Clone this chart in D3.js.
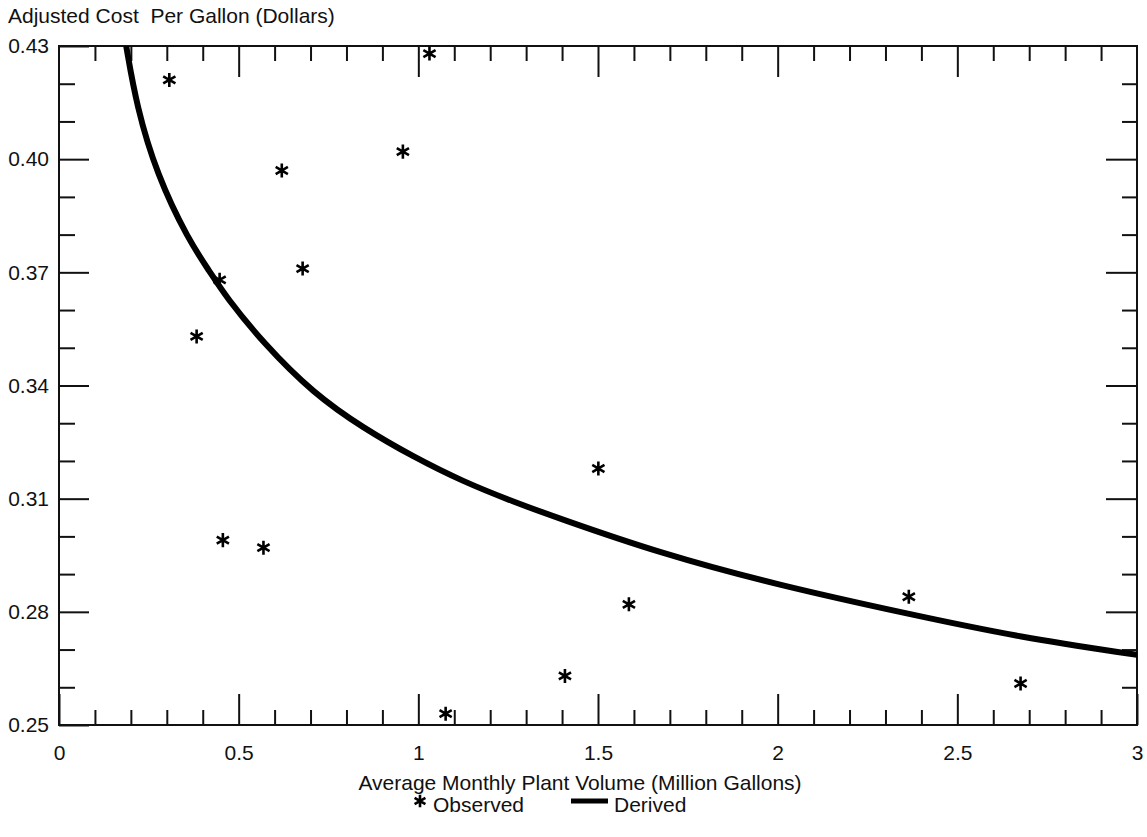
<!DOCTYPE html>
<html>
<head>
<meta charset="utf-8">
<script src="https://cdn.jsdelivr.net/npm/d3@7"></script>
<style>
  html, body { margin: 0; padding: 0; background: #fff; }
  svg { display: block; }
  text { font-family: "Liberation Sans", Arial, Helvetica, sans-serif; fill: #111; white-space: pre; }
</style>
</head>
<body>
<svg id="chart" width="1147" height="837"></svg>
<script>
// ---- Data ----
const observedX = [0.307, 1.031, 0.620, 0.957, 0.447, 0.678, 0.383, 0.456, 0.569, 1.501, 1.586, 1.408, 1.076, 2.365, 2.676];
const observedY = [0.421, 0.428, 0.397, 0.402, 0.368, 0.371, 0.353, 0.299, 0.297, 0.318, 0.282, 0.263, 0.253, 0.284, 0.261];

const derivedX = [0.187, 0.216, 0.272, 0.360, 0.421, 0.463, 0.569, 0.708, 0.847, 0.986, 1.125, 1.264, 1.385, 1.673, 2.000, 2.365, 2.676, 3.000];
const derivedY = [0.430, 0.414, 0.396, 0.3786, 0.3700, 0.3637, 0.3512, 0.3379, 0.3287, 0.3211, 0.3145, 0.3092, 0.3050, 0.2955, 0.2871, 0.2794, 0.2732, 0.2686];

const xTickValues = [0, 0.5, 1, 1.5, 2, 2.5, 3];
const xTickLabels = ["0", "0.5", "1", "1.5", "2", "2.5", "3"];
const yTickValues = [0.25, 0.28, 0.31, 0.34, 0.37, 0.40, 0.43];
const yTickLabels = ["0.25", "0.28", "0.31", "0.34", "0.37", "0.40", "0.43"];

const yTitle = "Adjusted Cost  Per Gallon (Dollars)";
const xTitle = "Average Monthly Plant Volume (Million Gallons)";
const legendLabels = ["Observed", "Derived"];

// ---- Layout ----
const L = 59, R = 1137, T = 46, B = 725;
const svg = d3.select("#chart");

const x = d3.scaleLinear().domain([0, 3]).range([L, R]);
const y = d3.scaleLinear().domain([0.25, 0.43]).range([B, T]);

const xMinor = d3.range(1, 30).map(i => i / 10).filter(v => Math.round(v * 10) % 5 !== 0);
const yMinor = d3.range(25, 44).map(i => i / 100).filter(v => !yTickValues.some(t => Math.abs(t - v) < 1e-6));

function styleAxis(g) {
  g.select(".domain").remove();
  g.selectAll(".tick line").attr("stroke", "#111").attr("stroke-width", 2);
  g.selectAll(".tick text").attr("font-size", 21).attr("fill", "#111")
    .attr("font-family", '"Liberation Sans", Arial, Helvetica, sans-serif');
}

// Bottom axis: major with labels, minor without
svg.append("g").attr("transform", `translate(0,${B})`)
  .call(d3.axisBottom(x).tickValues(xTickValues)
    .tickFormat((d, i) => xTickLabels[i]).tickSizeInner(-31).tickSizeOuter(0).tickPadding(20))
  .call(styleAxis);
svg.append("g").attr("transform", `translate(0,${B})`)
  .call(d3.axisBottom(x).tickValues(xMinor).tickFormat(() => "").tickSizeInner(-15).tickSizeOuter(0))
  .call(styleAxis);

// Top axis (ticks only)
svg.append("g").attr("transform", `translate(0,${T})`)
  .call(d3.axisTop(x).tickValues(xTickValues.slice(1, -1)).tickFormat(() => "").tickSizeInner(-31).tickSizeOuter(0))
  .call(styleAxis);
svg.append("g").attr("transform", `translate(0,${T})`)
  .call(d3.axisTop(x).tickValues(xMinor).tickFormat(() => "").tickSizeInner(-15).tickSizeOuter(0))
  .call(styleAxis);

// Left axis
svg.append("g").attr("transform", `translate(${L},0)`)
  .call(d3.axisLeft(y).tickValues(yTickValues)
    .tickFormat((d, i) => yTickLabels[i]).tickSizeInner(-30).tickSizeOuter(0).tickPadding(10))
  .call(styleAxis);
svg.append("g").attr("transform", `translate(${L},0)`)
  .call(d3.axisLeft(y).tickValues(yMinor).tickFormat(() => "").tickSizeInner(-16).tickSizeOuter(0))
  .call(styleAxis);

// Right axis
svg.append("g").attr("transform", `translate(${R},0)`)
  .call(d3.axisRight(y).tickValues(yTickValues.slice(1, -1)).tickFormat(() => "").tickSizeInner(-31).tickSizeOuter(0))
  .call(styleAxis);
svg.append("g").attr("transform", `translate(${R},0)`)
  .call(d3.axisRight(y).tickValues(yMinor).tickFormat(() => "").tickSizeInner(-15).tickSizeOuter(0))
  .call(styleAxis);

// Frame
svg.append("rect").attr("x", L).attr("y", T).attr("width", R - L).attr("height", B - T)
  .attr("fill", "none").attr("stroke", "#111").attr("stroke-width", 2);

// Clip
svg.append("clipPath").attr("id", "plotclip")
  .append("rect").attr("x", L).attr("y", T).attr("width", R - L).attr("height", B - T);

// Derived curve
const derived = derivedX.map((d, i) => [d, derivedY[i]]);
const line = d3.line().x(d => x(d[0])).y(d => y(d[1])).curve(d3.curveBasis);
svg.append("path").datum(derived)
  .attr("clip-path", "url(#plotclip)")
  .attr("d", line).attr("fill", "none").attr("stroke", "#000").attr("stroke-width", 6);

// Observed points
const observed = observedX.map((d, i) => [d, observedY[i]]);
const star = d3.symbol().type(d3.symbolAsterisk).size(140);
svg.append("g").selectAll("path").data(observed).join("path")
  .attr("transform", d => `translate(${x(d[0])},${y(d[1])})`)
  .attr("d", star).attr("fill", "none").attr("stroke", "#000").attr("stroke-width", 2.6);

// Axis titles
svg.append("text").attr("x", 8).attr("y", 23).attr("font-size", 21).text(yTitle);
svg.append("text").attr("x", 580).attr("y", 790).attr("text-anchor", "middle").attr("font-size", 21).text(xTitle);

// Legend
const lg = svg.append("g");
lg.append("path").attr("transform", "translate(420,801)")
  .attr("d", d3.symbol().type(d3.symbolAsterisk).size(110)).attr("fill", "none").attr("stroke", "#000").attr("stroke-width", 2.6);
lg.append("text").attr("x", 433).attr("y", 812).attr("font-size", 21).text(legendLabels[0]);
lg.append("line").attr("x1", 571).attr("x2", 608).attr("y1", 801).attr("y2", 801)
  .attr("stroke", "#000").attr("stroke-width", 5);
lg.append("text").attr("x", 614).attr("y", 812).attr("font-size", 21).text(legendLabels[1]);
</script>
</body>
</html>
